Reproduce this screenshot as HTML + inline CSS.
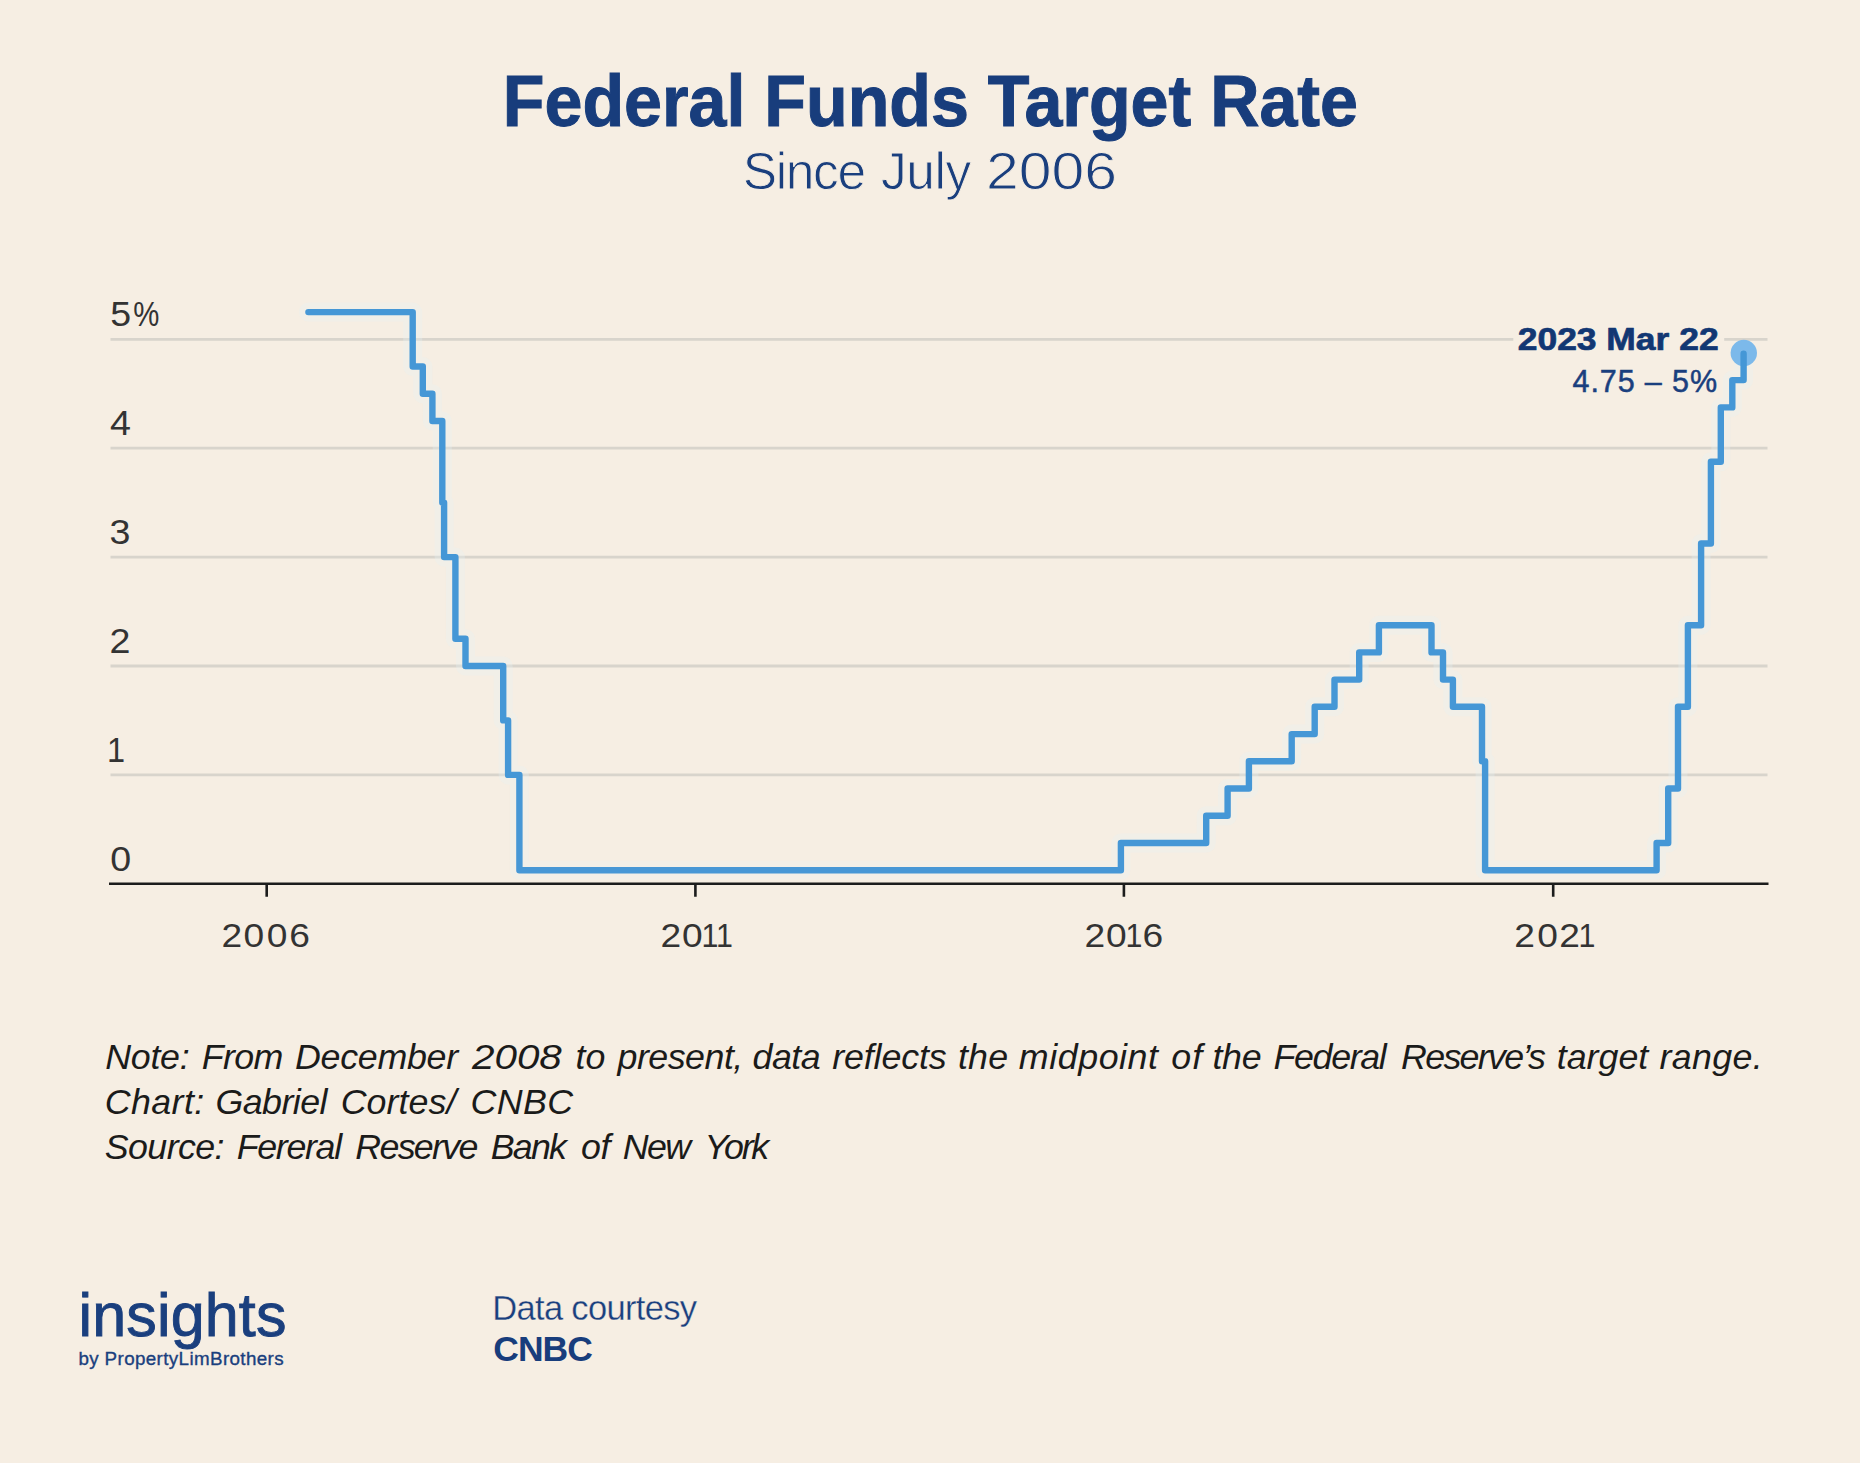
<!DOCTYPE html>
<html lang="en">
<head>
<meta charset="utf-8">
<title>Federal Funds Target Rate</title>
<style>
  html, body { margin: 0; padding: 0; }
  body {
    width: 1860px; height: 1463px; position: relative; overflow: hidden;
    background: #f6eee3;
    font-family: "Liberation Sans", Arial, sans-serif;
    color: #1a3f7e;
  }
  .abs { position: absolute; white-space: nowrap; line-height: 1; }
  #title { left: 0; width: 1860.8px; top: 66.1px; -webkit-text-stroke: 1px #183d7c; text-align: center; font-size: 71.5px; font-weight: 700;
           transform: scaleX(0.9537); transform-origin: 50% 50%; color: #183d7c; }
  #subtitle span { position: absolute; top: 146.1px; line-height: 1; white-space: nowrap; font-size: 51.5px; font-weight: 400; -webkit-text-stroke: 0.9px #f6eee3; }
  #chart { position: absolute; left: 0; top: 0; width: 1860px; height: 1000px; }
  #chart text { font-family: "Liberation Sans", Arial, sans-serif; }
  .ylab { font-size: 34.2px; fill: #333333; }
  .xlab { font-size: 33.8px; fill: #333333; }
  .notes { position: absolute; left: 0; height: 0; }
  .notes span { position: absolute; top: 0; white-space: nowrap; line-height: 1; font-size: 35.8px; font-style: italic; color: #1b1b1a; }
  #logo1 { left: 78.6px; top: 1285.4px; font-size: 61px; letter-spacing: 0.15px; -webkit-text-stroke: 0.9px #1a3f7e; }
  #logo2 { left: 78.4px; top: 1349.9px; font-size: 18.8px; letter-spacing: 0.38px; -webkit-text-stroke: 0.35px #1a3f7e; }
  #dc1 { left: 492.3px; top: 1291.1px; font-size: 34.5px; letter-spacing: -0.68px; -webkit-text-stroke: 0.3px #f6eee3; }
  #dc2 { left: 493.3px; top: 1332px; font-size: 35.5px; font-weight: 700; letter-spacing: -1px; color: #183d7c; }
</style>
</head>
<body>
<div id="title" class="abs">Federal Funds Target Rate</div>
<div id="subtitle"><span style="left:742.8px;letter-spacing:-1.4px">Since</span> <span style="left:880.9px;letter-spacing:-0.43px">July</span> <span style="left:985.8px;transform:scaleX(1.144);transform-origin:0 50%">2006</span></div>

<svg id="chart" viewBox="0 0 1860 1000">
  <g stroke="#d8d4cc" stroke-width="2.8" fill="none">
    <path d="M110.5 339.4H1513.3M1724.2 339.4H1767.5"/>
    <path d="M110.5 448.2H1767.5"/>
    <path d="M110.5 557.1H1767.5"/>
    <path d="M110.5 666H1767.5"/>
    <path d="M110.5 774.9H1767.5"/>
  </g>
  <g stroke="#1c1c1c" stroke-width="2.6" fill="none">
    <path d="M109 883.8H1768.5"/>
    <path d="M266.7 883.8V896.8M695.4 883.8V896.8M1123.9 883.8V896.8M1553.2 883.8V896.8"/>
  </g>
  <g class="ylab">
    <text x="110.2" y="326.1"><tspan textLength="20.9" lengthAdjust="spacingAndGlyphs">5</tspan><tspan dx="2.1" textLength="26.1" lengthAdjust="spacingAndGlyphs">%</tspan></text>
    <text transform="translate(109.9 434.9) scale(1.1 1)">4</text>
    <text transform="translate(109.5 543.8) scale(1.1 1)">3</text>
    <text transform="translate(109.4 652.7) scale(1.1 1)">2</text>
    <text transform="translate(106.9 761.6) scale(0.95 1)">1</text>
    <text transform="translate(110.2 870.5) scale(1.1 1)">0</text>
  </g>
  <g class="xlab">
    <text y="946.6"><tspan x="221.5" textLength="20.67" lengthAdjust="spacingAndGlyphs">2</tspan><tspan x="243.5" textLength="20.67" lengthAdjust="spacingAndGlyphs">0</tspan><tspan x="266.8" textLength="20.67" lengthAdjust="spacingAndGlyphs">0</tspan><tspan x="289.3" textLength="20.67" lengthAdjust="spacingAndGlyphs">6</tspan></text>
    <text y="946.6"><tspan x="660.6" textLength="20.67" lengthAdjust="spacingAndGlyphs">2</tspan><tspan x="682.1" textLength="20.67" lengthAdjust="spacingAndGlyphs">0</tspan><tspan x="701.5" textLength="16.91" lengthAdjust="spacingAndGlyphs">1</tspan><tspan x="716.0" textLength="16.91" lengthAdjust="spacingAndGlyphs">1</tspan></text>
    <text y="946.6"><tspan x="1084.5" textLength="20.67" lengthAdjust="spacingAndGlyphs">2</tspan><tspan x="1106.1" textLength="20.67" lengthAdjust="spacingAndGlyphs">0</tspan><tspan x="1125.5" textLength="16.91" lengthAdjust="spacingAndGlyphs">1</tspan><tspan x="1142.6" textLength="20.67" lengthAdjust="spacingAndGlyphs">6</tspan></text>
    <text y="946.6"><tspan x="1514.3" textLength="20.67" lengthAdjust="spacingAndGlyphs">2</tspan><tspan x="1537.3" textLength="20.67" lengthAdjust="spacingAndGlyphs">0</tspan><tspan x="1559.3" textLength="20.67" lengthAdjust="spacingAndGlyphs">2</tspan><tspan x="1578.6" textLength="16.91" lengthAdjust="spacingAndGlyphs">1</tspan></text>
  </g>
  <path d="M308.4 312.1H412.7V366.5H422.8V393.7H432.4V421.0H442.3V502.6H444.1V557.1H455.4V638.8H465.5V666.0H503.2V720.4H508.1V774.9H519.4V870.2H1120.9V843.0H1206.2V815.7H1227.6V788.5H1248.9V761.3H1291.7V734.1H1314.7V706.8H1334.5V679.6H1359.2V652.4H1378.9V625.2H1431.5V652.4H1443.0V679.6H1452.9V706.8H1482.0V761.3H1485.1V870.2H1656.6V843.0H1668.2V788.5H1678.0V706.8H1687.9V625.2H1701.1V543.5H1710.9V461.8H1720.8V407.4H1732.3V380.1H1743.6V353.7" fill="none" stroke="#e4f1f4" stroke-opacity="0.3" stroke-width="19" stroke-linejoin="round" stroke-linecap="round"/>
  <circle cx="1743.8" cy="353" r="13.2" fill="#7cb9ea"/>
  <path d="M308.4 312.1H412.7V366.5H422.8V393.7H432.4V421.0H442.3V502.6H444.1V557.1H455.4V638.8H465.5V666.0H503.2V720.4H508.1V774.9H519.4V870.2H1120.9V843.0H1206.2V815.7H1227.6V788.5H1248.9V761.3H1291.7V734.1H1314.7V706.8H1334.5V679.6H1359.2V652.4H1378.9V625.2H1431.5V652.4H1443.0V679.6H1452.9V706.8H1482.0V761.3H1485.1V870.2H1656.6V843.0H1668.2V788.5H1678.0V706.8H1687.9V625.2H1701.1V543.5H1710.9V461.8H1720.8V407.4H1732.3V380.1H1743.6V353.7" fill="none" stroke="#4597d6" stroke-width="6.4" stroke-linejoin="round" stroke-linecap="round"/>
  <g transform="translate(1718.6 350) scale(1.107 1)" font-size="32" font-weight="700" text-anchor="end">
    <text x="0" y="0" fill="#123773" stroke="#123773" stroke-width="0.7" stroke-linejoin="round">2023 Mar 22</text>
  </g>
  <g font-size="30.5" letter-spacing="0.9" text-anchor="end">
    <text x="1718" y="392" fill="#1a3f7e" stroke="#1a3f7e" stroke-width="0.5">4.75 – 5%</text>
  </g>
</svg>

<div class="notes" style="top:1040px"><span style="left:105.3px;letter-spacing:-0.3px">Note:</span> <span style="left:201.7px;letter-spacing:-0.63px">From</span> <span style="left:295.0px;letter-spacing:-0.29px">December</span> <span style="left:472.2px;transform:scaleX(1.128);transform-origin:0 50%">2008</span> <span style="left:575.4px;letter-spacing:0.1px">to</span> <span style="left:617.5px;letter-spacing:-0.51px">present,</span> <span style="left:752.5px;letter-spacing:-0.5px">data</span> <span style="left:832.2px;letter-spacing:-0.13px">reflects</span> <span style="left:958.0px;letter-spacing:0.15px">the</span> <span style="left:1018.8px;letter-spacing:0.56px">midpoint</span> <span style="left:1171.3px;letter-spacing:1.0px">of</span> <span style="left:1212.5px;letter-spacing:-0.35px">the</span> <span style="left:1273.5px;letter-spacing:-1.35px">Federal</span> <span style="left:1401.1px;letter-spacing:-1.71px">Reserve’s</span> <span style="left:1556.8px;letter-spacing:-0.02px">target</span> <span style="left:1659.6px;letter-spacing:0.3px">range.</span></div>
<div class="notes" style="top:1085px"><span style="left:104.8px;letter-spacing:0.38px">Chart:</span> <span style="left:215.4px;letter-spacing:-0.55px">Gabriel</span> <span style="left:340.7px;letter-spacing:0.05px">Cortes/</span> <span style="left:470.5px;letter-spacing:0.4px">CNBC</span></div>
<div class="notes" style="top:1130px"><span style="left:104.8px;letter-spacing:-0.62px">Source:</span> <span style="left:236.7px;letter-spacing:-1.33px">Fereral</span> <span style="left:355.3px;letter-spacing:-1.7px">Reserve</span> <span style="left:490.7px;letter-spacing:-1.77px">Bank</span> <span style="left:580.9px;letter-spacing:-0.4px">of</span> <span style="left:622.7px;letter-spacing:-1.55px">New</span> <span style="left:704.4px;letter-spacing:-2.27px">York</span></div>

<div id="logo1" class="abs">insights</div>
<div id="logo2" class="abs">by PropertyLimBrothers</div>
<div id="dc1" class="abs">Data courtesy</div>
<div id="dc2" class="abs">CNBC</div>
</body>
</html>
